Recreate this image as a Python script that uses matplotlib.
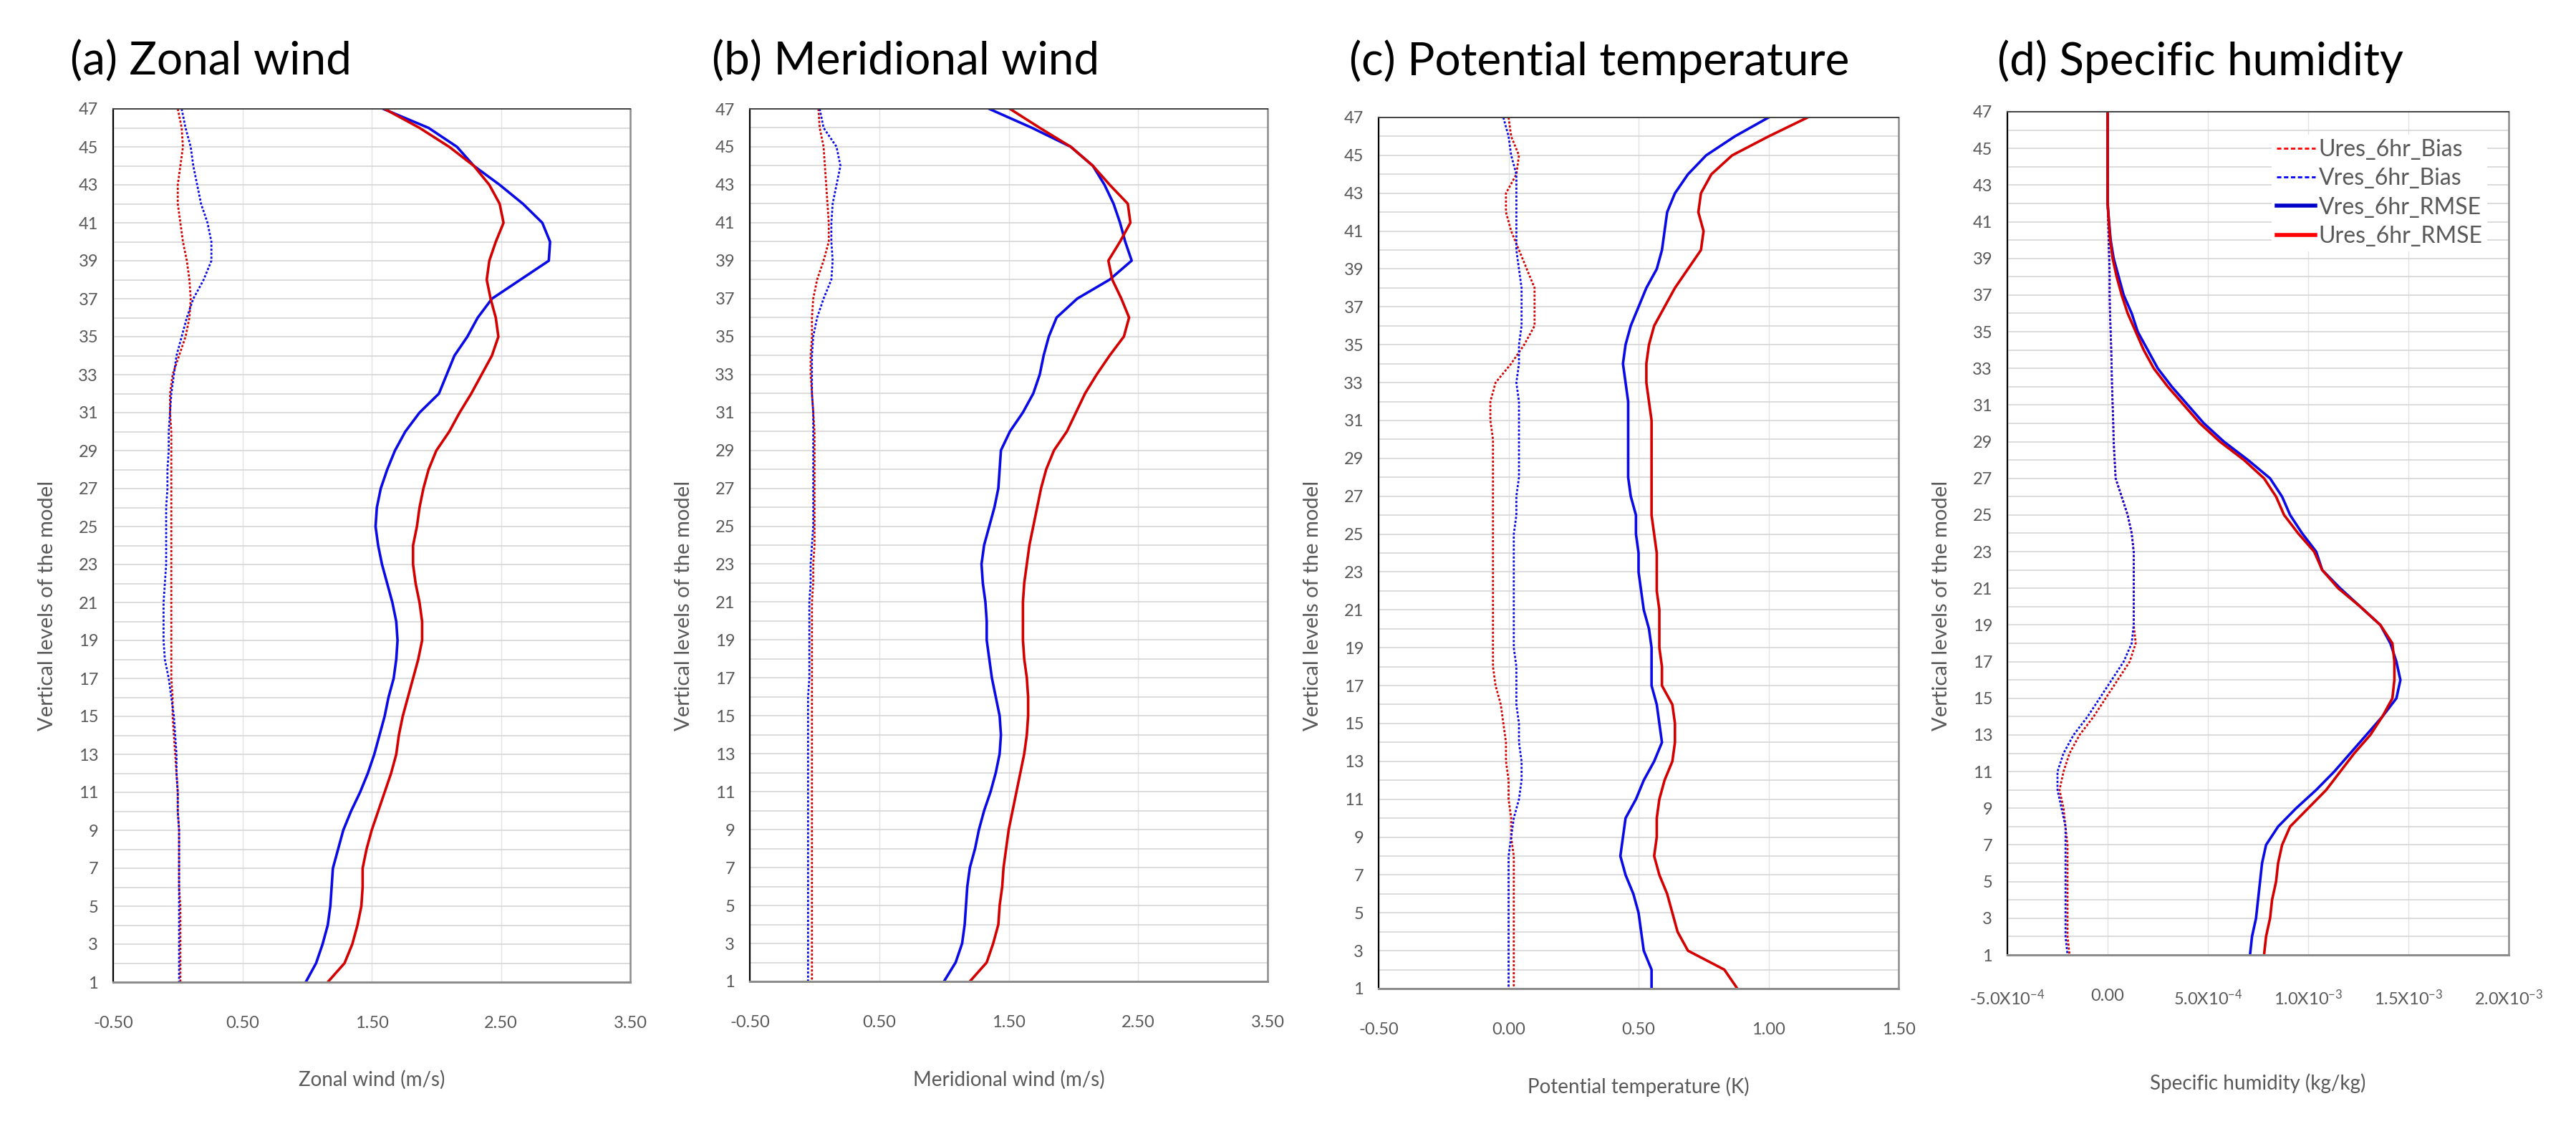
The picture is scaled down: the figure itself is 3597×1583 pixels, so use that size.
import numpy as np
import matplotlib
matplotlib.use("Agg")
import matplotlib.pyplot as plt
from matplotlib.lines import Line2D

plt.rcParams['font.family'] = ['Lato', 'DejaVu Sans']
plt.rcParams['mathtext.fontset'] = 'custom'
plt.rcParams['mathtext.rm'] = 'Lato'
plt.rcParams['mathtext.default'] = 'regular'

# model levels, listed from top (47) to bottom (1)
levels = np.arange(47, 0, -1)

# (a) zonal wind (m/s)
u_vres_rmse = [1.59, 1.94, 2.16, 2.29, 2.49, 2.67, 2.82, 2.88, 2.87, 2.65,
               2.43, 2.32, 2.24, 2.14, 2.08, 2.02, 1.87, 1.76, 1.68, 1.62,
               1.57, 1.54, 1.53, 1.55, 1.58, 1.62, 1.66, 1.69, 1.70, 1.69,
               1.67, 1.63, 1.60, 1.56, 1.52, 1.47, 1.41, 1.34, 1.28, 1.24,
               1.20, 1.19, 1.18, 1.16, 1.12, 1.07, 0.99]
u_ures_rmse = [1.60, 1.87, 2.10, 2.29, 2.41, 2.49, 2.52, 2.46, 2.41, 2.39,
               2.42, 2.46, 2.48, 2.43, 2.35, 2.27, 2.18, 2.10, 2.00, 1.94,
               1.90, 1.87, 1.85, 1.82, 1.82, 1.84, 1.87, 1.89, 1.89, 1.86,
               1.82, 1.78, 1.74, 1.71, 1.69, 1.65, 1.60, 1.55, 1.50, 1.46,
               1.43, 1.43, 1.42, 1.39, 1.35, 1.29, 1.16]
u_ures_bias = [0.00, 0.03, 0.04, 0.02, 0.00, 0.00, 0.02, 0.04, 0.07, 0.09,
               0.10, 0.09, 0.06, 0.01, -0.04, -0.06, -0.06, -0.05, -0.05, -0.05,
               -0.05, -0.05, -0.05, -0.05, -0.05, -0.05, -0.05, -0.05, -0.05, -0.05,
               -0.05, -0.04, -0.04, -0.03, -0.02, -0.01, 0.00, 0.00, 0.01, 0.01,
               0.01, 0.01, 0.02, 0.02, 0.02, 0.02, 0.02]
u_vres_bias = [0.03, 0.06, 0.10, 0.12, 0.15, 0.18, 0.23, 0.26, 0.26, 0.20,
               0.12, 0.07, 0.03, -0.01, -0.03, -0.05, -0.06, -0.07, -0.07, -0.08,
               -0.08, -0.09, -0.09, -0.09, -0.09, -0.10, -0.11, -0.11, -0.11, -0.10,
               -0.07, -0.05, -0.03, -0.02, -0.01, -0.01, 0.00, 0.00, 0.01, 0.01,
               0.01, 0.01, 0.01, 0.01, 0.01, 0.01, 0.01]

# (b) meridional wind (m/s)
v_vres_rmse = [1.35, 1.68, 1.98, 2.15, 2.24, 2.31, 2.36, 2.40, 2.45, 2.28,
               2.03, 1.87, 1.81, 1.77, 1.74, 1.69, 1.61, 1.51, 1.44, 1.43,
               1.42, 1.39, 1.35, 1.31, 1.29, 1.30, 1.32, 1.33, 1.33, 1.35,
               1.37, 1.40, 1.43, 1.44, 1.43, 1.40, 1.36, 1.31, 1.27, 1.24,
               1.20, 1.18, 1.17, 1.16, 1.14, 1.09, 1.00]
v_ures_rmse = [1.51, 1.74, 1.98, 2.15, 2.28, 2.42, 2.44, 2.36, 2.27, 2.30,
               2.37, 2.43, 2.39, 2.28, 2.18, 2.09, 2.02, 1.95, 1.85, 1.79,
               1.75, 1.72, 1.69, 1.66, 1.64, 1.62, 1.61, 1.61, 1.61, 1.62,
               1.64, 1.65, 1.65, 1.64, 1.62, 1.59, 1.56, 1.53, 1.50, 1.48,
               1.46, 1.45, 1.43, 1.42, 1.38, 1.33, 1.20]
v_ures_bias = [0.03, 0.04, 0.07, 0.08, 0.09, 0.10, 0.11, 0.11, 0.07, 0.02,
               -0.01, -0.02, -0.02, -0.03, -0.03, -0.02, -0.01, 0.00, 0.00, 0.00,
               0.00, 0.00, 0.00, 0.00, -0.01, -0.01, -0.02, -0.02, -0.02, -0.02,
               -0.02, -0.02, -0.02, -0.02, -0.02, -0.02, -0.02, -0.02, -0.02, -0.02,
               -0.02, -0.02, -0.02, -0.02, -0.02, -0.02, -0.02]
v_vres_bias = [0.04, 0.07, 0.17, 0.20, 0.17, 0.14, 0.13, 0.13, 0.14, 0.13,
               0.07, 0.02, -0.01, -0.02, -0.02, -0.02, -0.01, -0.01, -0.01, -0.01,
               -0.01, -0.01, -0.01, -0.02, -0.03, -0.03, -0.04, -0.04, -0.04, -0.04,
               -0.04, -0.05, -0.05, -0.05, -0.05, -0.05, -0.05, -0.05, -0.05, -0.05,
               -0.05, -0.05, -0.05, -0.05, -0.05, -0.05, -0.05]

# (c) potential temperature (K)
t_vres_rmse = [1.00, 0.87, 0.76, 0.69, 0.64, 0.61, 0.60, 0.59, 0.57, 0.53,
               0.50, 0.47, 0.45, 0.44, 0.45, 0.46, 0.46, 0.46, 0.46, 0.46,
               0.47, 0.49, 0.49, 0.50, 0.50, 0.51, 0.52, 0.54, 0.55, 0.55,
               0.55, 0.57, 0.58, 0.59, 0.56, 0.52, 0.49, 0.45, 0.44, 0.43,
               0.45, 0.48, 0.50, 0.51, 0.52, 0.55, 0.55]
t_ures_rmse = [1.15, 1.00, 0.86, 0.78, 0.74, 0.73, 0.75, 0.74, 0.69, 0.64,
               0.60, 0.56, 0.54, 0.53, 0.53, 0.54, 0.55, 0.55, 0.55, 0.55,
               0.55, 0.55, 0.56, 0.57, 0.57, 0.57, 0.58, 0.58, 0.58, 0.59,
               0.59, 0.63, 0.64, 0.64, 0.63, 0.60, 0.58, 0.57, 0.57, 0.56,
               0.58, 0.61, 0.63, 0.65, 0.69, 0.83, 0.88]
t_ures_bias = [0.00, 0.01, 0.04, 0.03, -0.01, -0.01, 0.01, 0.04, 0.07, 0.10,
               0.10, 0.10, 0.06, 0.01, -0.05, -0.07, -0.07, -0.06, -0.06, -0.06,
               -0.06, -0.06, -0.06, -0.06, -0.06, -0.06, -0.06, -0.06, -0.06, -0.06,
               -0.05, -0.03, -0.02, -0.01, -0.01, 0.00, 0.00, 0.01, 0.01, 0.02,
               0.02, 0.02, 0.02, 0.02, 0.02, 0.02, 0.02]
t_vres_bias = [-0.02, 0.00, 0.01, 0.03, 0.03, 0.03, 0.03, 0.03, 0.04, 0.05,
               0.05, 0.05, 0.04, 0.04, 0.03, 0.04, 0.04, 0.04, 0.04, 0.04,
               0.03, 0.03, 0.02, 0.02, 0.02, 0.02, 0.02, 0.02, 0.02, 0.03,
               0.03, 0.03, 0.04, 0.04, 0.05, 0.05, 0.04, 0.02, 0.01, 0.00,
               0.00, 0.00, 0.00, 0.00, 0.00, 0.00, 0.00]

# (d) specific humidity, in units of 1e-3 kg/kg
q_scale = 1e-3
q_vres_rmse = [0.00, 0.00, 0.00, 0.00, 0.00, 0.00, 0.007, 0.015, 0.03, 0.055,
               0.08, 0.12, 0.15, 0.20, 0.25, 0.32, 0.40, 0.48, 0.58, 0.70,
               0.81, 0.87, 0.91, 0.97, 1.04, 1.07, 1.16, 1.26, 1.36, 1.41,
               1.44, 1.46, 1.44, 1.37, 1.29, 1.21, 1.13, 1.04, 0.94, 0.85,
               0.79, 0.77, 0.76, 0.75, 0.74, 0.72, 0.71]
q_ures_rmse = [0.00, 0.00, 0.00, 0.00, 0.00, 0.00, 0.006, 0.013, 0.025, 0.045,
               0.07, 0.10, 0.14, 0.18, 0.23, 0.30, 0.38, 0.46, 0.56, 0.68,
               0.78, 0.84, 0.88, 0.95, 1.03, 1.07, 1.15, 1.26, 1.36, 1.42,
               1.43, 1.43, 1.42, 1.37, 1.31, 1.23, 1.16, 1.09, 1.00, 0.91,
               0.87, 0.85, 0.84, 0.82, 0.81, 0.79, 0.78]
q_ures_bias = [0.00, 0.00, 0.00, 0.00, 0.00, 0.00, 0.003, 0.005, 0.008, 0.01,
               0.01, 0.012, 0.015, 0.018, 0.02, 0.022, 0.025, 0.028, 0.03, 0.035,
               0.04, 0.07, 0.10, 0.12, 0.13, 0.13, 0.13, 0.13, 0.13, 0.14,
               0.11, 0.05, -0.01, -0.07, -0.14, -0.19, -0.22, -0.24, -0.22, -0.21,
               -0.20, -0.20, -0.20, -0.20, -0.20, -0.20, -0.19]
q_vres_bias = [0.00, 0.00, 0.00, 0.00, 0.00, 0.00, 0.003, 0.005, 0.008, 0.01,
               0.01, 0.012, 0.015, 0.018, 0.02, 0.022, 0.025, 0.028, 0.03, 0.035,
               0.04, 0.07, 0.10, 0.12, 0.13, 0.13, 0.13, 0.13, 0.13, 0.12,
               0.08, 0.02, -0.04, -0.10, -0.17, -0.22, -0.25, -0.25, -0.23, -0.21,
               -0.21, -0.21, -0.21, -0.21, -0.21, -0.21, -0.20]

titles = ["(a) Zonal wind", "(b) Meridional wind",
          "(c) Potential temperature", "(d) Specific humidity"]
xlabels = ["Zonal wind (m/s)", "Meridional wind (m/s)",
           "Potential temperature (K)", "Specific humidity (kg/kg)"]
wind_ticks = [-0.5, 0.5, 1.5, 2.5, 3.5]
wind_labels = ["-0.50", "0.50", "1.50", "2.50", "3.50"]
temp_ticks = [-0.5, 0.0, 0.5, 1.0, 1.5]
temp_labels = ["-0.50", "0.00", "0.50", "1.00", "1.50"]
q_ticks = [-5e-4, 0.0, 5e-4, 1e-3, 1.5e-3, 2e-3]
q_labels = [r"-5.0X10$^{-4}$", "0.00", r"5.0X10$^{-4}$", r"1.0X10$^{-3}$",
            r"1.5X10$^{-3}$", r"2.0X10$^{-3}$"]
legend_names = ["Ures_6hr_Bias", "Vres_6hr_Bias", "Vres_6hr_RMSE", "Ures_6hr_RMSE"]

series = [
    (u_ures_bias, u_vres_bias, u_vres_rmse, u_ures_rmse, 1.0),
    (v_ures_bias, v_vres_bias, v_vres_rmse, v_ures_rmse, 1.0),
    (t_ures_bias, t_vres_bias, t_vres_rmse, t_ures_rmse, 1.0),
    (q_ures_bias, q_vres_bias, q_vres_rmse, q_ures_rmse, q_scale),
]
ticks = [(wind_ticks, wind_labels), (wind_ticks, wind_labels),
         (temp_ticks, temp_labels), (q_ticks, q_labels)]

# layout in pixels: axes left, right, top, bottom; title x; x-label centre y
W, H = 3598, 1583
boxes = [(158, 880, 152, 1371), (1047, 1770, 152, 1370),
         (1925, 2651, 164, 1380), (2803, 3503, 156, 1333)]
title_x = [98, 994, 1884, 2789]
xlabel_y = [1507, 1507, 1517, 1512]

red = "#d40000"
blue = "#0a0ae6"
grey = "#595959"
dots = (0, (1.1, 0.9))

fig = plt.figure(figsize=(W / 100, H / 100), dpi=100)

for i in range(4):
    l, r, t, b = boxes[i]
    hpx = b - t
    ax = fig.add_axes([l / W, 1 - b / H, (r - l) / W, hpx / H])
    ub, vb, vr, ur, sc = series[i]
    ax.plot(np.array(ub) * sc, levels, color=red, lw=2.0, ls=dots)
    ax.plot(np.array(vb) * sc, levels, color=blue, lw=2.0, ls=dots)
    ax.plot(np.array(vr) * sc, levels, color=blue, lw=2.6)
    ax.plot(np.array(ur) * sc, levels, color=red, lw=2.6)

    tk, tl = ticks[i]
    ax.set_xlim(tk[0], tk[-1])
    ax.set_ylim(1, 47)
    ax.set_xticks(tk)
    ax.set_xticklabels(tl)
    ax.set_yticks(range(1, 48, 2))
    ax.set_yticks(range(2, 47, 2), minor=True)
    ax.grid(axis="y", which="both", color="#d9d9d9", lw=1.3)
    ax.grid(axis="x", which="major", color="#e2e2e2", lw=1.0)
    ax.set_axisbelow(True)
    ax.tick_params(which="both", length=0, labelsize=17, labelcolor=grey)
    ax.tick_params(axis="y", pad=15)
    ax.tick_params(axis="x", pad=34)

    ax.spines["left"].set_color("#000000")
    ax.spines["left"].set_linewidth(1.6)
    ax.spines["bottom"].set_color("#8c8c8c")
    ax.spines["bottom"].set_linewidth(2.2)
    ax.spines["top"].set_color("#404040")
    ax.spines["top"].set_linewidth(1.4)
    ax.spines["right"].set_color("#8c8c8c")
    ax.spines["right"].set_linewidth(1.8)

    ax.set_xlabel(xlabels[i], fontsize=20, color=grey, va="center")
    ax.xaxis.set_label_coords(0.5, -(xlabel_y[i] - b) / hpx)
    ax.set_ylabel("Vertical levels of the model", fontsize=21, color=grey, va="center")
    ax.yaxis.set_label_coords(-92 / (r - l), (b - 845) / hpx)

    fig.text(title_x[i] / W, 1 - 105 / H, titles[i], fontsize=46,
             color="black", va="baseline", ha="left")

    if i == 3:
        handles = [Line2D([], [], color="#ff0000", lw=2.0, ls=(0, (2.2, 1.3))),
                   Line2D([], [], color="#0000ff", lw=2.0, ls=(0, (2.2, 1.3))),
                   Line2D([], [], color="#0000c8", lw=4.0),
                   Line2D([], [], color="#ff0000", lw=4.0)]
        leg = ax.legend(handles, legend_names, loc="upper right",
                        bbox_to_anchor=(0.957, 0.973), borderaxespad=0,
                        fontsize=23, handlelength=1.7, handletextpad=0.15,
                        labelspacing=0.32, frameon=True, facecolor="white",
                        edgecolor="none", framealpha=1, borderpad=0.2)
        for txt in leg.get_texts():
            txt.set_color(grey)

fig.savefig("out.png", dpi=100)
